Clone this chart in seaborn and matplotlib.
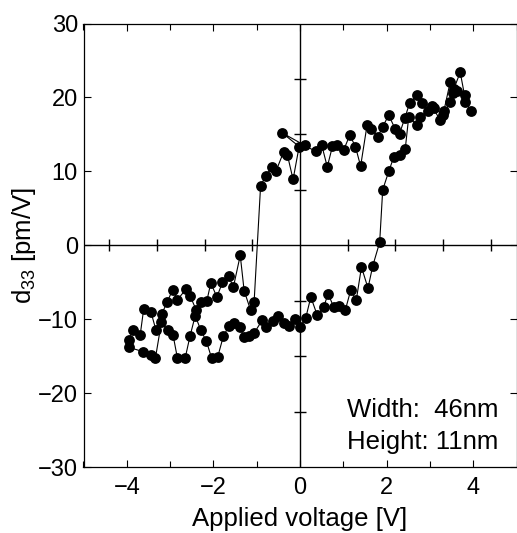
import matplotlib
matplotlib.use("Agg")
import matplotlib.pyplot as plt
import seaborn as sns
import pandas as pd

# Descending sweep (+4 V -> -4 V)
down_voltage = [3.96, 3.80, 3.80, 3.70, 3.55, 3.47, 3.32, 3.23, 3.05, 2.82, 2.70, 2.53, 2.42, 2.30,
                2.20, 2.05, 1.91, 1.80, 1.65, 1.55, 1.40, 1.28, 1.15, 1.01, 0.86, 0.75, 0.63, 0.50,
                0.36, 0.11, -0.41, -0.02, -0.16, -0.29, -0.38, -0.55, -0.64, -0.79, -0.91, -1.06,
                -1.14, -1.29, -1.38, -1.54, -1.65, -1.79, -1.92, -2.06, -2.15, -2.29, -2.40, -2.54,
                -2.63, -2.83, -2.94, -3.07, -3.19, -3.33, -3.44, -3.61, -3.69, -3.85, -3.96]
down_d33 = [18.2, 19.4, 20.3, 23.4, 21.1, 22.1, 18.1, 17.0, 18.8, 19.2, 20.3, 19.2, 17.2, 15.1,
            15.7, 17.6, 16.05, 14.7, 15.7, 16.3, 10.7, 13.35, 14.9, 12.9, 13.6, 13.4, 10.6, 13.6,
            12.7, 13.5, 15.2, 13.35, 8.9, 12.2, 12.6, 10.1, 10.65, 9.4, 8.04, -7.7,
            -8.8, -6.15, -1.37, -5.7, -4.12, -5.02, -7.0, -5.1, -7.5, -7.68, -8.72, -6.82,
            -5.92, -7.37, -6.0, -7.72, -9.26, -11.4, -9.08, -8.63, -12.1, -11.5, -12.8]

# Ascending sweep (-4 V -> +4 V)
up_voltage = [-3.96, -3.62, -3.44, -3.34, -3.20, -3.06, -2.93, -2.83, -2.65, -2.54, -2.42, -2.29,
              -2.16, -2.04, -1.90, -1.77, -1.64, -1.52, -1.39, -1.29, -1.18, -1.06, -0.87, -0.79,
              -0.62, -0.50, -0.37, -0.25, -0.12, -0.01, 0.13, 0.25, 0.40, 0.55, 0.65, 0.78, 0.90,
              1.05, 1.17, 1.30, 1.42, 1.57, 1.68, 1.84, 1.91, 2.05, 2.17, 2.30, 2.43, 2.51, 2.70,
              2.78, 2.96, 3.10, 3.30, 3.47, 3.53, 3.62]
up_d33 = [-13.8, -14.4, -14.8, -15.3, -10.4, -11.5, -12.2, -15.3, -15.2, -12.3, -9.53, -11.5,
          -13.0, -15.3, -15.1, -12.3, -10.9, -10.5, -11.1, -12.4, -12.3, -11.9, -10.1, -11.05,
          -10.2, -9.6, -10.5, -10.9, -10.0, -11.1, -9.9, -7.0, -9.5, -8.3, -6.55, -8.4, -8.2,
          -8.7, -6.1, -7.4, -2.95, -5.8, -2.8, 0.4, 7.5, 10.0, 12.0, 12.2, 13.0, 17.3, 16.3,
          17.4, 18.1, 18.6, 17.6, 19.4, 20.6, 20.9]

x_major_ticks = [-4, -2, 0, 2, 4]
x_minor_ticks = [-5, -3, -1, 1, 3, 5]
y_major_ticks = [-30, -20, -10, 0, 10, 20, 30]
zero_axis_xticks = [-4.4, -3.3, -2.2, -1.1, 1.1, 2.2, 3.3, 4.4]
zero_axis_yticks = [-22.5, -15, -7.5, 7.5, 15, 22.5]
annotation_lines = ["Width:  46nm", "Height: 11nm"]

sns.set_style("ticks")
plt.rcParams['font.family'] = ['Liberation Sans', 'DejaVu Sans']
plt.rcParams['mathtext.default'] = 'regular'
plt.rcParams['text.color'] = 'black'
plt.rcParams['axes.labelcolor'] = 'black'
plt.rcParams['xtick.color'] = 'black'
plt.rcParams['ytick.color'] = 'black'

df = pd.DataFrame({
    "V": down_voltage + up_voltage,
    "d33": down_d33 + up_d33,
})

fig = plt.figure(figsize=(5.17, 5.33), dpi=100)
ax = fig.add_axes([83.5 / 517, 1 - 467 / 533, 433 / 517, (467 - 23.5) / 533])

ax.axhline(0, color='black', lw=1.0, zorder=1)
ax.axvline(0, color='black', lw=1.0, zorder=1)
ax.plot(zero_axis_xticks, [0] * len(zero_axis_xticks), ls='none', marker='|',
        ms=8.5, mew=1.0, color='black', zorder=1)
ax.plot([0] * len(zero_axis_yticks), zero_axis_yticks, ls='none', marker='_',
        ms=8.5, mew=1.0, color='black', zorder=1)

sns.lineplot(data=df, x="V", y="d33", sort=False, estimator=None, ax=ax,
             color='black', lw=0.8, marker='o', markersize=7.8,
             markeredgecolor='black', markeredgewidth=0, zorder=3)

ax.set_xlim(-5, 5)
ax.set_ylim(-30, 30)
ax.set_xticks(x_major_ticks)
ax.set_xticks(x_minor_ticks, minor=True)
ax.set_yticks(y_major_ticks)
ax.tick_params(which='both', direction='in', top=True, right=True, colors='black',
               labelcolor='black', width=0.8, labelsize=17)
ax.tick_params(which='major', length=5)
ax.tick_params(which='minor', length=4)
ax.tick_params(axis='x', pad=7)
ax.tick_params(axis='y', pad=4)
for s in ax.spines.values():
    s.set_color('black')
    s.set_linewidth(0.9)

ax.set_xlabel("Applied voltage [V]", fontsize=18.5, labelpad=6, color='black')
ax.set_ylabel("d$_{33}$ [pm/V]", fontsize=18.5, labelpad=0, color='black')

ax.text(1.08, -23.3, annotation_lines[0], fontsize=18.5, ha='left', va='baseline',
        color='black')
ax.text(1.08, -27.6, annotation_lines[1], fontsize=18.5, ha='left', va='baseline',
        color='black')

fig.savefig("out.png", dpi=100)
